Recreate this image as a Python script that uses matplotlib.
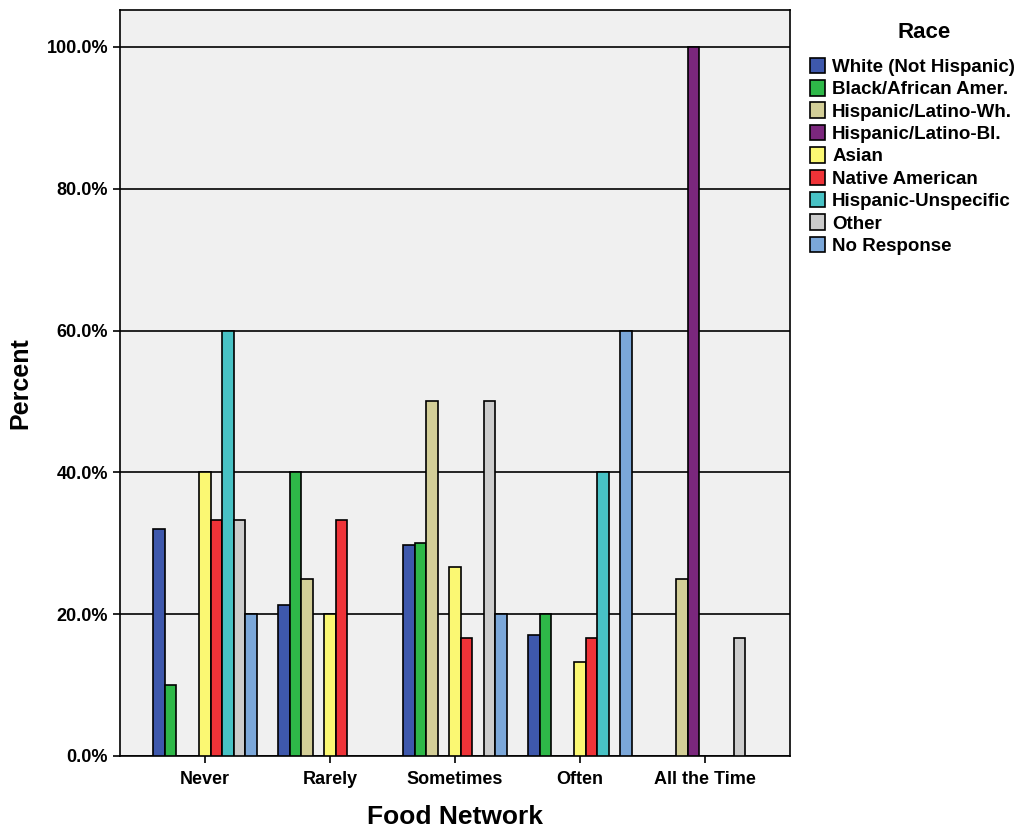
import numpy as np
import matplotlib.pyplot as plt

plt.rcParams['font.family'] = ['Liberation Sans', 'DejaVu Sans']

categories = ['Never', 'Rarely', 'Sometimes', 'Often', 'All the Time']
races = ['White (Not Hispanic)', 'Black/African Amer.', 'Hispanic/Latino-Wh.',
         'Hispanic/Latino-Bl.', 'Asian', 'Native American',
         'Hispanic-Unspecific', 'Other', 'No Response']
colors = ['#3E58AC', '#2EB848', '#D3CE97', '#7B277D', '#FBF873',
          '#EF3338', '#48C2C5', '#CCCCCC', '#7BA7D9']

white = [32.0, 21.3, 29.8, 17.1, 0]
black = [10.0, 40.0, 30.0, 20.0, 0]
hisp_wh = [0, 25.0, 50.0, 0, 25.0]
hisp_bl = [0, 0, 0, 0, 100.0]
asian = [40.0, 20.0, 26.7, 13.3, 0]
native = [33.3, 33.3, 16.7, 16.7, 0]
hisp_unspec = [60.0, 0, 0, 40.0, 0]
other = [33.3, 0, 50.0, 0, 16.7]
no_resp = [20.0, 0, 20.0, 60.0, 0]
series = [white, black, hisp_wh, hisp_bl, asian, native, hisp_unspec, other, no_resp]

fig = plt.figure(figsize=(10.21, 8.36), dpi=100)
ax = fig.add_axes([0.1175, 0.0957, 0.656, 0.8923])
ax.set_facecolor('#F0F0F0')

x = np.arange(len(categories))
w = 0.092
for i, (vals, c, name) in enumerate(zip(series, colors, races)):
    pos = x + (i - 4) * w
    v = np.array(vals, dtype=float)
    m = v > 0
    ax.bar(pos[m], v[m], width=w, color=c, edgecolor='black', linewidth=1.2,
           zorder=3, label=name)

ax.set_xlim(-0.68, 4.68)
ax.set_ylim(0, 105.2)
ax.set_yticks([0, 20, 40, 60, 80, 100])
ax.set_yticklabels(['%.1f%%' % t for t in [0, 20, 40, 60, 80, 100]],
                   fontsize=13, fontweight='bold')
ax.set_xticks(x)
ax.set_xticklabels(categories, fontsize=13, fontweight='bold')
ax.yaxis.grid(True, color='black', linewidth=1.2, zorder=1)
ax.set_axisbelow(True)
ax.tick_params(axis='both', length=5, width=1.2, color='black')
ax.tick_params(axis='x', pad=6)
for s in ax.spines.values():
    s.set_linewidth(1.2)

ax.set_ylabel('Percent', fontsize=18, fontweight='bold', labelpad=10)
ax.set_xlabel('Food Network', fontsize=19, fontweight='bold', labelpad=12)

# legend (title drawn separately to match spacing)
handles, labels = ax.get_legend_handles_labels()
leg = fig.legend(handles, labels, loc='upper left',
                 bbox_to_anchor=(0.793, 0.931), frameon=False,
                 prop={'weight': 'bold', 'size': 13.5},
                 handlelength=0.8, handleheight=0.9, handletextpad=0.4,
                 labelspacing=0.22, borderaxespad=0, borderpad=0)
fig.text(0.905, 1 - 33 / 836, 'Race', ha='center', va='center',
         fontsize=16, fontweight='bold')

fig.savefig('out.png', dpi=100)
